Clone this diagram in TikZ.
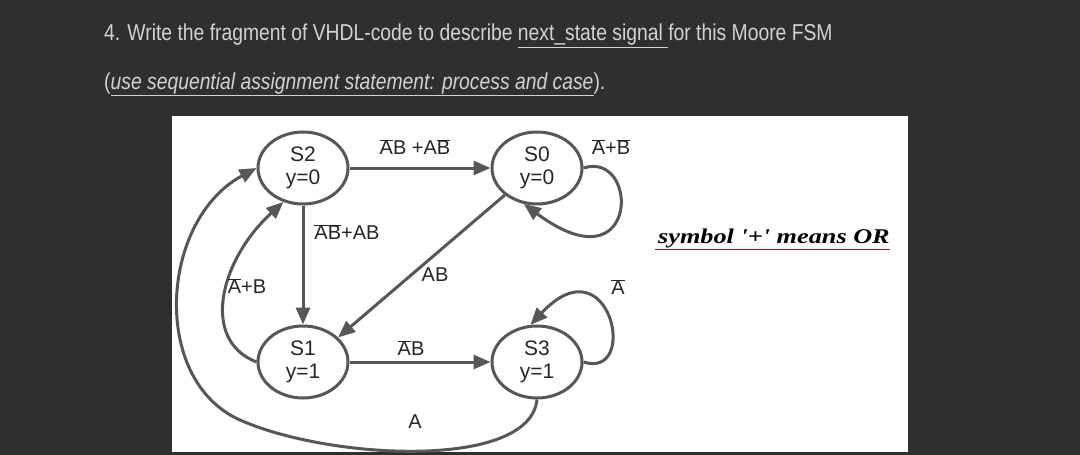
\documentclass[tikz,border=0pt]{standalone}
\usepackage{fontspec}
\setmainfont{Liberation Sans}
\newfontfamily\serifbi{Liberation Serif}
\usetikzlibrary{arrows.meta,shapes.geometric}
\newcommand{\ob}[1]{$\overline{\mbox{#1}}$}
\definecolor{bg}{HTML}{2F2F2F}
\definecolor{ttl}{HTML}{D2D2D2}
\definecolor{ed}{HTML}{575757}
\tikzset{
 st/.style={draw=ed,line width=3pt,ellipse,minimum width=90pt,minimum height=72pt,inner sep=0pt,align=center,font=\fontsize{21}{23}\selectfont,text=black!85},
 tr/.style={draw=ed,line width=3pt,-{Triangle[length=17pt,width=14pt]}},
 lb/.style={font=\fontsize{20}{22}\selectfont,text=black!85},
 ttxt/.style={text=ttl,font=\fontsize{23}{26}\selectfont,anchor=base west,inner sep=0pt}
}
\begin{document}
\begin{tikzpicture}[x=1pt,y=-1pt]
\fill[bg] (0,0) rectangle (1080,455);
\useasboundingbox (0,0) rectangle (1080,455);
\fill[white] (172,116) rectangle (908,452);
\node[ttxt] (t1) at (104,41) {\scalebox{0.84}[1]{4. Write the fragment of VHDL-code to describe \underline{next\_state signal }for this Moore FSM}};
\node[ttxt] (t2) at (104,89) {\scalebox{0.84}[1]{(\underline{\itshape use sequential assignment statement: process and case}).}};
\node[st] (S2) at (303,168) {S2\\y=0};
\node[st] (S0) at (537,168) {S0\\y=0};
\node[st] (S1) at (303,362) {S1\\y=1};
\node[st] (S3) at (537,362) {S3\\y=1};
\draw[tr] (S2) -- (S0);
\node[lb] (l1) at (415,147) {\ob{A}B +A\ob{B}};
\draw[tr] (S0.east) .. controls (640,150) and (640,290) .. (S0.-110);
\node[lb] (l2) at (611,147) {\ob{A}+\ob{B}};
\draw[tr] (S2) -- (S1);
\node[lb] (l3) at (347,232) {\ob{AB}+AB};
\draw[tr] (S0.-140) -- (S1.35);
\node[lb] (l4) at (435,275) {AB};
\draw[tr] (S1) -- (S3);
\node[lb] (l5) at (411,348) {\ob{A}B};
\draw[tr] (S3.east) .. controls (640,380) and (610,240) .. (S3.100);
\node[lb] (l6) at (618,287) {\ob{A}};
\draw[tr] (S1.west) .. controls (200,340) and (220,260) .. (S2.-120);
\node[lb] (l7) at (247,286) {\ob{A}+B};
\draw[tr] (S3.south) .. controls (530,470) and (330,460) .. (240,420) .. controls (150,380) and (160,220) .. (S2.west);
\node[lb] (l8) at (415,422) {A};
\node[font=\serifbi\bfseries\itshape\fontsize{21}{24}\selectfont,anchor=base west,inner sep=0pt] (sym) at (658,243) {\scalebox{1.25}[1]{symbol '+' means OR}};
\draw[red!80!black,line width=0.8pt] (655,249) -- (890,249);
\end{tikzpicture}
\end{document}
